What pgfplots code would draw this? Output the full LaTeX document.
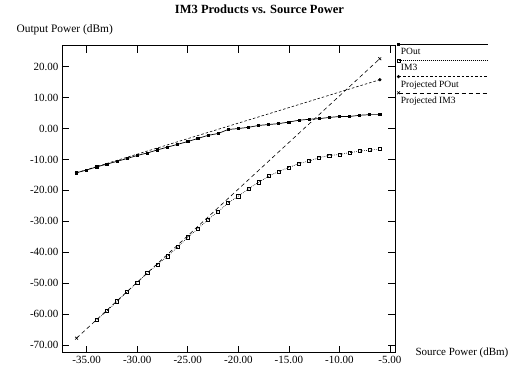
\documentclass[border=0pt]{standalone}
\usepackage{fontspec}
\setmainfont{Liberation Serif}
\usepackage{pgfplots}
\pgfplotsset{compat=1.18}
\pgfplotstableread{
x y
-36 -14.3
-35 -13.4
-34 -12.4
-33 -11.5
-32 -10.6
-31 -9.7
-30 -8.7
-29 -7.9
-28 -6.9
-27 -6.0
-26 -5.1
-25 -4.2
-24 -3.2
-23 -2.2
-22 -1.6
-21 -0.3
-20 0.0
-19 0.4
-18 1.0
-17 1.3
-16 1.6
-15 2.1
-14 2.7
-13 3.0
-12 3.2
-11 3.6
-10 3.9
-9 3.9
-8 4.3
-7 4.5
-6 4.5
}\pout
\pgfplotstableread{
x y
-34 -61.9
-33 -59.0
-32 -55.9
-31 -52.8
-30 -49.8
-29 -46.7
-28 -44.0
-27 -41.3
-26 -38.3
-25 -35.2
-24 -32.4
-23 -29.4
-22 -26.9
-21 -24.0
-20 -21.9
-19 -19.5
-18 -17.4
-17 -15.4
-16 -13.9
-15 -12.6
-14 -11.3
-13 -10.5
-12 -9.4
-11 -8.7
-10 -8.4
-9 -7.8
-8 -7.3
-7 -7.0
-6 -6.6
}\imthree
\begin{document}
\begin{tikzpicture}
\useasboundingbox (-62pt,-18.3pt) rectangle (452pt,352.7pt);
\begin{axis}[
  at={(0pt,0pt)}, anchor=south west, scale only axis,
  width=333pt, height=307pt,
  xmin=-37.44, xmax=-4.5, ymin=-72.5, ymax=26.8,
  xtick={-35,-30,...,-5}, ytick={-70,-60,...,20},
  tick align=inside, major tick length=7pt,
  tick style={black, line width=0.6pt},
  axis line style={line width=0.8pt},
  /pgf/number format/assume math mode=true,
  xticklabel={\pgfmathprintnumber[fixed,fixed zerofill,precision=2]{\tick}},
  yticklabel={\pgfmathprintnumber[fixed,fixed zerofill,precision=2]{\tick}},
  ticklabel style={font=\fontsize{11}{13}\selectfont},
  title={IM3 Products vs. Source Power},
  title style={at={(axis description cs:0.593,1.100)}, anchor=center, font=\bfseries\fontsize{12.5}{14}\selectfont},
  xlabel={Source Power (dBm)},
  ylabel={Output Power (dBm)},
  every axis x label/.style={at={(axis description cs:1.051,0.0)}, anchor=west, font=\fontsize{11}{13}\selectfont},
  every axis y label/.style={at={(axis description cs:-0.147,1.051)}, anchor=west, font=\fontsize{11.4}{13}\selectfont},
  legend style={at={(axis description cs:1.009,0.994)}, anchor=north west, draw=none, fill=none, inner sep=0pt,
    row sep=7.2pt, column sep=2pt, font=\fontsize{9.5}{11}\selectfont,
    nodes={inner sep=0pt, text height=7pt, text depth=2pt}},
  legend cell align=left,
  legend image code/.code={\draw[#1, mark indices={1}, overlay] plot coordinates {(0pt,8pt) (89pt,8pt)}; \path (0pt,0pt);},
]
\addplot[black, line width=0.7pt, mark=square*, mark size=1.1pt] table {\pout};
\addlegendentry{POut}
\addplot[black, line width=0.6pt, dash pattern=on 0.7pt off 1.3pt, mark=square, mark size=1.6pt, mark options={solid, fill=white}] table {\imthree};
\addlegendentry{IM3}
\addplot[black, line width=0.6pt, dash pattern=on 2.5pt off 2pt, mark=*, mark size=1.3pt, mark options={solid}] coordinates {(-36,-14.3) (-6,15.8)};
\addlegendentry{Projected POut}
\addplot[black, line width=0.6pt, dash pattern=on 4pt off 3pt, mark=x, mark size=2pt, mark options={solid}] coordinates {(-36,-67.8) (-6,22.6)};
\addlegendentry{Projected IM3}
\end{axis}
\end{tikzpicture}
\end{document}
